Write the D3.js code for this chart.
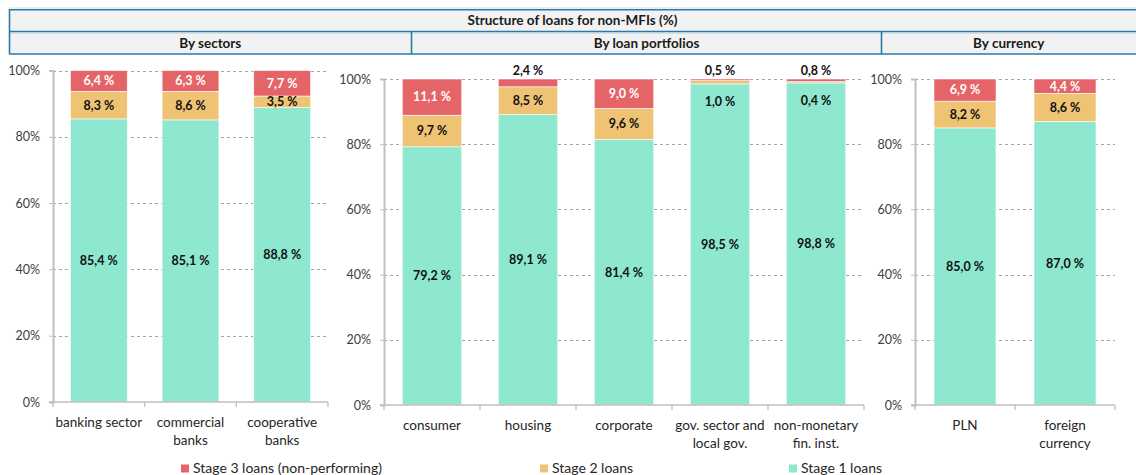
<!DOCTYPE html>
<html>
<head>
<meta charset="utf-8">
<script src="https://cdn.jsdelivr.net/npm/d3@7"></script>
<style>
  html, body { margin: 0; padding: 0; background: #fff; }
  svg { display: block; font-family: Lato, "Open Sans", sans-serif; }
</style>
</head>
<body>
<svg id="chart" width="1136" height="475"></svg>
<script>
// Chart texts
const chartTitle = "Structure of loans for non-MFIs (%)";
const panelTitles = ["By sectors", "By loan portfolios", "By currency"];
const seriesNames = ["Stage 3 loans (non-performing)", "Stage 2 loans", "Stage 1 loans"];
const yTicks = [0, 20, 40, 60, 80, 100];

// By sectors
const sectorCats = ["banking sector", "commercial\nbanks", "cooperative\nbanks"];
const sectorStage1 = [85.4, 85.1, 88.8];
const sectorStage2 = [8.3, 8.6, 3.5];
const sectorStage3 = [6.4, 6.3, 7.7];

// By loan portfolios
const portfolioCats = ["consumer", "housing", "corporate", "gov. sector and\nlocal gov.", "non-monetary\nfin. inst."];
const portfolioStage1 = [79.2, 89.1, 81.4, 98.5, 98.8];
const portfolioStage2 = [9.7, 8.5, 9.6, 1.0, 0.4];
const portfolioStage3 = [11.1, 2.4, 9.0, 0.5, 0.8];

// By currency
const currencyCats = ["PLN", "foreign\ncurrency"];
const currencyStage1 = [85.0, 87.0];
const currencyStage2 = [8.2, 8.6];
const currencyStage3 = [6.9, 4.4];

const colors = { s1: "#8ee8d0", s2: "#efc374", s3: "#e56467" };
const textColor = "#404040";
const border = "#2b78aa";

const svg = d3.select("#chart");
svg.append("rect").attr("width", 1136).attr("height", 475).attr("fill", "#fff");

// ---- table-style header ----
const hdr = svg.append("g");
const hx0 = 9, hx1 = 1136, dividers = [411.5, 881.5];
hdr.append("rect").attr("x", hx0).attr("y", 9).attr("width", hx1 - hx0).attr("height", 45).attr("fill", "#f2f2f2");
hdr.append("line").attr("x1", hx0).attr("x2", hx1).attr("y1", 8).attr("y2", 8).attr("stroke", "#d6dde2").attr("stroke-width", 1);
[9.8, 31.5, 54].forEach(y =>
  hdr.append("line").attr("x1", hx0).attr("x2", hx1).attr("y1", y).attr("y2", y)
    .attr("stroke", border).attr("stroke-width", 1.6));
hdr.append("line").attr("x1", hx0).attr("x2", hx1).attr("y1", 33).attr("y2", 33)
  .attr("stroke", "#b4cfe0").attr("stroke-width", 1);
hdr.append("line").attr("x1", hx0 + 0.5).attr("x2", hx0 + 0.5).attr("y1", 9).attr("y2", 54)
  .attr("stroke", border).attr("stroke-width", 1.6);
dividers.forEach(x =>
  hdr.append("line").attr("x1", x).attr("x2", x).attr("y1", 32).attr("y2", 54)
    .attr("stroke", border).attr("stroke-width", 1.6));
hdr.append("text").attr("x", (hx0 + hx1) / 2).attr("y", 25).attr("text-anchor", "middle")
  .attr("font-size", 13.5).attr("font-weight", 700).attr("fill", "#1a1a1a").text(chartTitle);
const cellEdges = [hx0, ...dividers, hx1];
panelTitles.forEach((t, i) =>
  hdr.append("text").attr("x", (cellEdges[i] + cellEdges[i + 1]) / 2).attr("y", 48)
    .attr("text-anchor", "middle").attr("font-size", 13.5).attr("font-weight", 700)
    .attr("fill", "#1a1a1a").text(t));

// ---- panels ----
const fmt = v => d3.format(".1f")(v).replace(".", ",") + " %";

const panels = [
  { cats: sectorCats, s1: sectorStage1, s2: sectorStage2, s3: sectorStage3, x: [53, 328], y: [402, 70.5] },
  { cats: portfolioCats, s1: portfolioStage1, s2: portfolioStage2, s3: portfolioStage3, x: [384, 864], y: [405, 79] },
  { cats: currencyCats, s1: currencyStage1, s2: currencyStage2, s3: currencyStage3, x: [915, 1115], y: [405, 79] }
];

panels.forEach(p => {
  const rows = p.cats.map((c, i) => ({ cat: c, s1: p.s1[i], s2: p.s2[i], s3: p.s3[i] }));
  const x = d3.scaleBand().domain(p.cats).range(p.x).paddingInner(0.38).paddingOuter(0.19);
  const y = d3.scaleLinear().domain([0, 100]).range(p.y).clamp(true);
  const g = svg.append("g");

  // dashed gridlines
  g.append("g").selectAll("line").data(yTicks.filter(t => t > 0)).join("line")
    .attr("x1", p.x[0]).attr("x2", p.x[1])
    .attr("y1", d => Math.round(y(d)) + 0.5).attr("y2", d => Math.round(y(d)) + 0.5)
    .attr("stroke", "#a6a6a6").attr("stroke-width", 1).attr("stroke-dasharray", "3,3");

  // stacked bars
  const stack = d3.stack().keys(["s1", "s2", "s3"])(rows);
  stack.forEach(layer => {
    g.append("g").selectAll("rect").data(layer).join("rect")
      .attr("x", d => x(d.data.cat))
      .attr("width", x.bandwidth())
      .attr("y", d => y(d[1]))
      .attr("height", d => y(d[0]) - y(d[1]))
      .attr("fill", colors[layer.key])
      .attr("stroke", "#fff").attr("stroke-width", 0.6);
  });

  // y axis
  const ya = d3.axisLeft(y).tickValues(yTicks).tickFormat(d => d + "%").tickSize(4).tickPadding(9);
  const yg = g.append("g").attr("transform", `translate(${p.x[0]},0)`).call(ya);
  yg.select(".domain").attr("stroke", "#bfbfbf").attr("stroke-width", 2);
  yg.selectAll(".tick line").attr("stroke", "#bfbfbf");
  yg.selectAll(".tick text").attr("font-size", 12.5).attr("fill", textColor)
    .attr("font-family", "Lato, sans-serif");

  // x axis with ticks on band boundaries
  const xg = g.append("g");
  xg.append("line").attr("x1", p.x[0] - 4).attr("x2", p.x[1]).attr("y1", p.y[0]).attr("y2", p.y[0])
    .attr("stroke", "#bfbfbf").attr("stroke-width", 1.3);
  const bounds = d3.range(p.cats.length + 1).map(i => p.x[0] + i * (p.x[1] - p.x[0]) / p.cats.length);
  xg.selectAll("line.tk").data(bounds).join("line").attr("class", "tk")
    .attr("x1", d => d).attr("x2", d => d).attr("y1", p.y[0]).attr("y2", p.y[0] + 5)
    .attr("stroke", "#bfbfbf").attr("stroke-width", 1.3);
  p.cats.forEach(c => {
    const t = xg.append("text").attr("text-anchor", "middle").attr("font-size", 13.5).attr("fill", "#262626");
    c.split("\n").forEach((line, i) =>
      t.append("tspan").attr("x", x(c) + x.bandwidth() / 2).attr("y", p.y[0] + 25 + i * 18).text(line));
  });

  // value labels
  const lg = g.append("g").attr("font-size", 12.5).attr("font-weight", 700).attr("text-anchor", "middle");
  rows.forEach(r => {
    const cx = x(r.cat) + x.bandwidth() / 2;
    const t1 = r.s1, t2 = r.s1 + r.s2, t3 = t2 + r.s3;
    lg.append("text").attr("x", cx).attr("y", y(t1 / 2)).attr("dy", "0.35em")
      .attr("fill", "#111").text(fmt(r.s1));
    const y2 = r.s2 < 3 ? y(t1) + 18 : y((t1 + t2) / 2);
    lg.append("text").attr("x", cx).attr("y", y2).attr("dy", "0.35em")
      .attr("fill", "#111").text(fmt(r.s2));
    const small3 = r.s3 < 3;
    const y3 = small3 ? y(100) - 8 : y((t2 + Math.min(t3, 100)) / 2);
    lg.append("text").attr("x", cx).attr("y", y3).attr("dy", "0.35em")
      .attr("fill", small3 ? "#111" : "#fff").text(fmt(r.s3));
  });
});

// ---- legend ----
const legendX = [181, 540, 789];
const legendKeys = ["s3", "s2", "s1"];
const leg = svg.append("g");
legendKeys.forEach((k, i) => {
  leg.append("rect").attr("x", legendX[i]).attr("y", 464.5).attr("width", 8).attr("height", 8).attr("fill", colors[k]);
  leg.append("text").attr("x", legendX[i] + 12).attr("y", 472.5).attr("font-size", 14)
    .attr("fill", "#262626").text(seriesNames[i]);
});
</script>
</body>
</html>
